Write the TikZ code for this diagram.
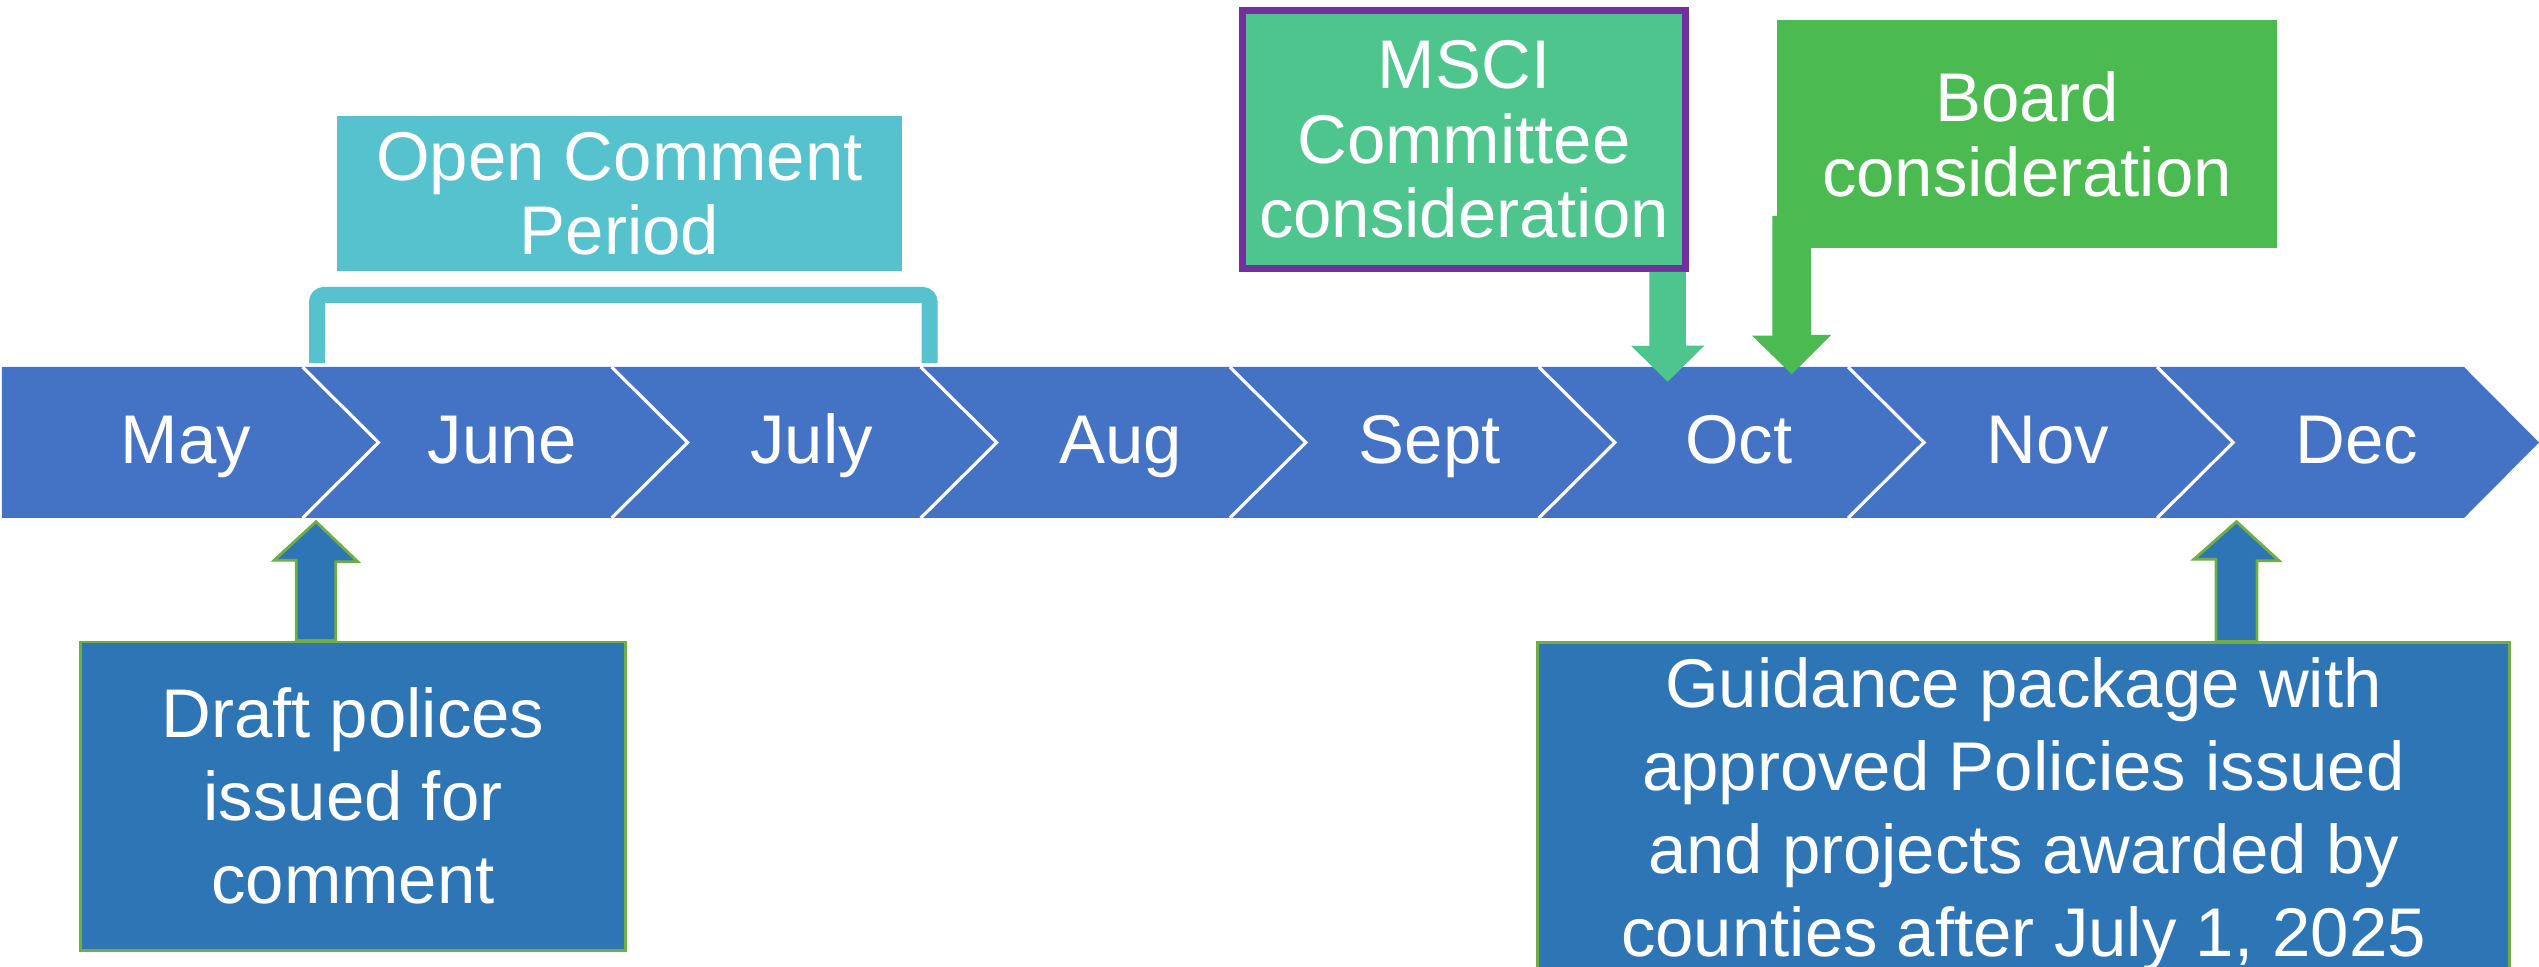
\documentclass[tikz,border=0pt]{standalone}
\usepackage{fontspec}
\setmainfont{Liberation Sans}

\definecolor{bandblue}{RGB}{68,114,196}
\definecolor{boxblue}{RGB}{46,117,182}
\definecolor{edgegreen}{RGB}{112,173,71}
\definecolor{commentteal}{RGB}{86,194,206}
\definecolor{mscigreen}{RGB}{79,197,142}
\definecolor{msciedge}{RGB}{112,48,160}
\definecolor{boardgreen}{RGB}{75,186,80}

\begin{document}
\begin{tikzpicture}[x=0.01cm, y=-0.01cm,
    every node/.style={text=white, inner sep=0pt, font=\fontsize{19.6pt}{21.2pt}\selectfont},
    month/.style={anchor=base},
    topbox/.style={align=center, text depth=0pt},
    tallbox/.style={fill=boxblue, draw=edgegreen, line width=0.8pt, align=center, text depth=0pt, font=\fontsize{19.6pt}{23.6pt}\selectfont},
    upblock/.style={fill=boxblue, draw=edgegreen, line width=0.8pt}]
    \useasboundingbox (0,0) rectangle (2539,967);
    \clip (0,0) rectangle (2539,967);

    % Timeline
    \fill[bandblue] (2,367) -- (2464,367) -- (2539,442.5) -- (2464,518) -- (2,518) -- cycle;
    \foreach \k in {0,...,6}
        \draw[white, line width=0.9pt] ({302.5+309.1*\k},367) -- ++(76,75.5) -- ++(-76,75.5);

    % Months
    \node[month] (may) at (186,464) {May};
    \foreach \n/\m [count=\i] in {june/June, july/July, aug/Aug, sept/Sept, oct/Oct, nov/Nov, dec/Dec}
        \node[month] (\n) at ({302.5+309.1*(\i-1)+200},464) {\m};

    % Open Comment Period
    \node[topbox, fill=commentteal, minimum width=5.65cm, minimum height=1.54cm] (comment) at (619.5,193.5) {Open Comment\\Period};
    \draw[commentteal, line width=4.55pt, rounded corners=2pt] (317,363) -- (317,295) -- (929.5,295) -- (929.5,363);

    % MSCI Committee
    \node[topbox, fill=mscigreen, draw=msciedge, line width=2pt, minimum width=4.43cm, minimum height=2.58cm] (msci) at (1464,139.2) {MSCI\\Committee\\consideration};

    % Board
    \node[topbox, fill=boardgreen, minimum width=5cm, minimum height=2.277cm] (board) at (2027,133.9) {Board\\consideration};

    % Draft policies
    \node[tallbox, minimum width=5.44cm, minimum height=3.08cm] (draft) at (353,796) {Draft polices\\issued for\\comment};

    % Guidance package
    \node[tallbox, minimum width=9.71cm, minimum height=3.28cm] (guidance) at (2023.5,807) {Guidance package with\\approved Policies issued\\and projects awarded by\\counties after July 1, 2025};

    % Arrows
    \coordinate (junetip) at (316,521.7);
    \coordinate (dectip) at (2236.5,521.7);
    \coordinate (octtip) at (1667.7,381.7);
    \coordinate (boardtip) at (1791.7,373);
    \coordinate (draftbase) at (junetip |- draft.north);
    \coordinate (guidebase) at (dectip |- guidance.north);
    \coordinate (mscibase) at (octtip |- msci.south);
    \coordinate (boardbase) at (boardtip |- board.south);

    \draw[upblock] (junetip) -- ++(41.75,40) -- ++(-22,0) -- ([xshift=0.1975cm]draftbase) -- ([xshift=-0.1975cm]draftbase) -- ++(0,-80.3) -- ++(-22,0) -- cycle;
    \draw[upblock] (dectip) -- ++(42.5,39) -- ++(-22,0) -- ([xshift=0.205cm]guidebase) -- ([xshift=-0.205cm]guidebase) -- ++(0,-82.3) -- ++(-22,0) -- cycle;
    \fill[mscigreen] (octtip) -- ++(36.6,-36) -- ++(-18.4,0) -- ([xshift=0.1825cm]mscibase) -- ([xshift=-0.1825cm]mscibase) -- ++(0,74) -- ++(-18.4,0) -- cycle;
    \draw[fill=boardgreen, draw=boardgreen, line width=0.5pt] (boardtip) -- ++(37.5,-37.3) -- ++(-19,0) -- ([xshift=0.185cm, yshift=0.317cm]boardbase) -- ([xshift=-0.185cm, yshift=0.317cm]boardbase) -- ++(0,119.7) -- ++(-19,0) -- cycle;

\end{tikzpicture}
\end{document}
